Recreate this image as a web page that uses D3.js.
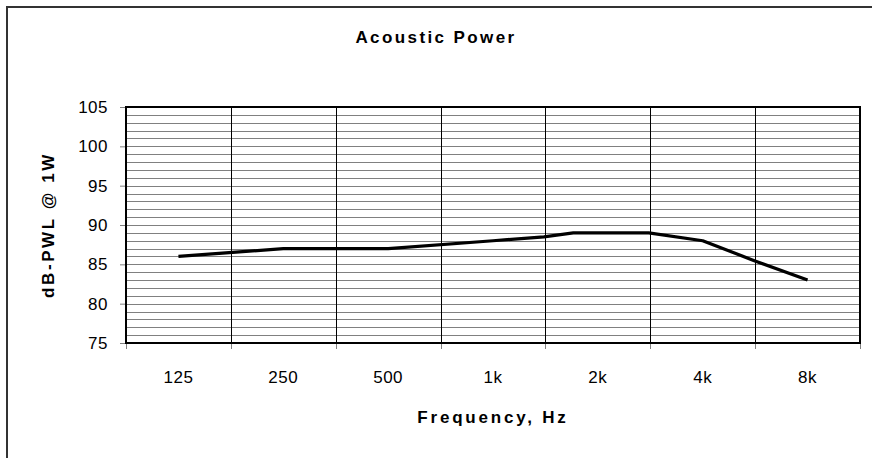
<!DOCTYPE html>
<html>
<head>
<meta charset="utf-8">
<script src="https://cdn.jsdelivr.net/npm/d3@7/dist/d3.min.js"></script>
<style>
  html, body { margin: 0; padding: 0; background: #fff; overflow: hidden; }
  svg { display: block; }
  text { font-family: Arial, "Liberation Sans", sans-serif; fill: #000; }
</style>
</head>
<body>
<svg id="chart" width="872" height="458"></svg>
<script>
// ---- data ----
const categories = ["125", "250", "500", "1k", "2k", "4k", "8k"];
const freqs = [125, 250, 500, 1000, 1400, 1700, 2800, 4000, 5600, 8000];
const power = [86, 87, 87, 88, 88.5, 89, 89, 88, 85.5, 83];
const yTicks = [75, 80, 85, 90, 95, 100, 105];
const titleText = "Acoustic Power";
const xTitle = "Frequency, Hz";
const yTitle = "dB-PWL @ 1W";

(function () {
// ---- layout ----
const svg = d3.select("#chart");
const pL = 126, pR = 860, pT = 107, pB = 343;

// outer frame (right/bottom edges fall outside the picture)
svg.append("rect")
  .attr("x", 7).attr("y", 7).attr("width", 900).attr("height", 500)
  .attr("fill", "none").attr("stroke", "#333").attr("stroke-width", 2);

const x = d3.scaleBand().domain(categories).range([pL, pR]).padding(0);
const bw = x.bandwidth();
const xf = d3.scaleLog().base(2).domain([freqs[0], freqs[freqs.length - 1]])
  .range([x(categories[0]) + bw / 2, x(categories[categories.length - 1]) + bw / 2]);
const y = d3.scaleLinear().domain([75, 105]).range([pB, pT]);

// horizontal minor gridlines every 1 dB
const gridVals = d3.range(76, 105, 1);
svg.append("g").selectAll("line").data(gridVals).join("line")
  .attr("x1", pL).attr("x2", pR)
  .attr("y1", d => Math.round(y(d)) + 0.5).attr("y2", d => Math.round(y(d)) + 0.5)
  .attr("stroke", "#808080").attr("stroke-width", 1);

// vertical gridlines at category boundaries
svg.append("g").selectAll("line").data(categories.slice(1)).join("line")
  .attr("x1", d => Math.round(x(d)) + 0.5).attr("x2", d => Math.round(x(d)) + 0.5)
  .attr("y1", pT).attr("y2", pB)
  .attr("stroke", "#000").attr("stroke-width", 1);

// y axis
const yAxis = d3.axisLeft(y).tickValues(yTicks).tickSize(6).tickPadding(12);
const gy = svg.append("g").attr("transform", `translate(${pL},0)`).call(yAxis);
gy.select(".domain").remove();
gy.selectAll(".tick line").attr("stroke", "#808080");
gy.selectAll(".tick text").style("font-size", "17px").attr("letter-spacing", "0.5px")
  .attr("font-family", "Arial, 'Liberation Sans', sans-serif");

// x axis with ticks at boundaries
const boundaries = categories.map(c => x(c)).concat([pR]);
svg.append("g").selectAll("line").data(boundaries).join("line")
  .attr("x1", d => Math.round(d) + 0.5).attr("x2", d => Math.round(d) + 0.5)
  .attr("y1", pB).attr("y2", pB + 6)
  .attr("stroke", "#808080");
svg.append("g").selectAll("text").data(categories).join("text")
  .attr("x", d => x(d) + bw / 2).attr("y", 383)
  .attr("text-anchor", "middle")
  .style("font-size", "17px").attr("letter-spacing", "0.5px")
  .text(d => d);

// plot border
svg.append("rect")
  .attr("x", pL).attr("y", pT).attr("width", pR - pL).attr("height", pB - pT)
  .attr("fill", "none").attr("stroke", "#000").attr("stroke-width", 2);

// line
const line = d3.line().x(d => xf(d[0])).y(d => y(d[1]));
svg.append("path")
  .datum(freqs.map((f, i) => [f, power[i]]))
  .attr("d", line)
  .attr("fill", "none").attr("stroke", "#000").attr("stroke-width", 3.2)
  .attr("stroke-linejoin", "round");

// titles
svg.append("text").attr("x", 436).attr("y", 43).attr("text-anchor", "middle")
  .style("font-size", "17px").style("font-weight", "bold").attr("letter-spacing", "2.4px")
  .text(titleText);
svg.append("text").attr("x", (pL + pR) / 2).attr("y", 423).attr("text-anchor", "middle")
  .style("font-size", "17px").style("font-weight", "bold").attr("letter-spacing", "2.8px")
  .text(xTitle);
svg.append("text").attr("transform", `translate(54,${(pT + pB) / 2}) rotate(-90)`).attr("text-anchor", "middle")
  .style("font-size", "17px").style("font-weight", "bold").attr("letter-spacing", "2.6px")
  .text(yTitle);
})();
</script>
</body>
</html>
